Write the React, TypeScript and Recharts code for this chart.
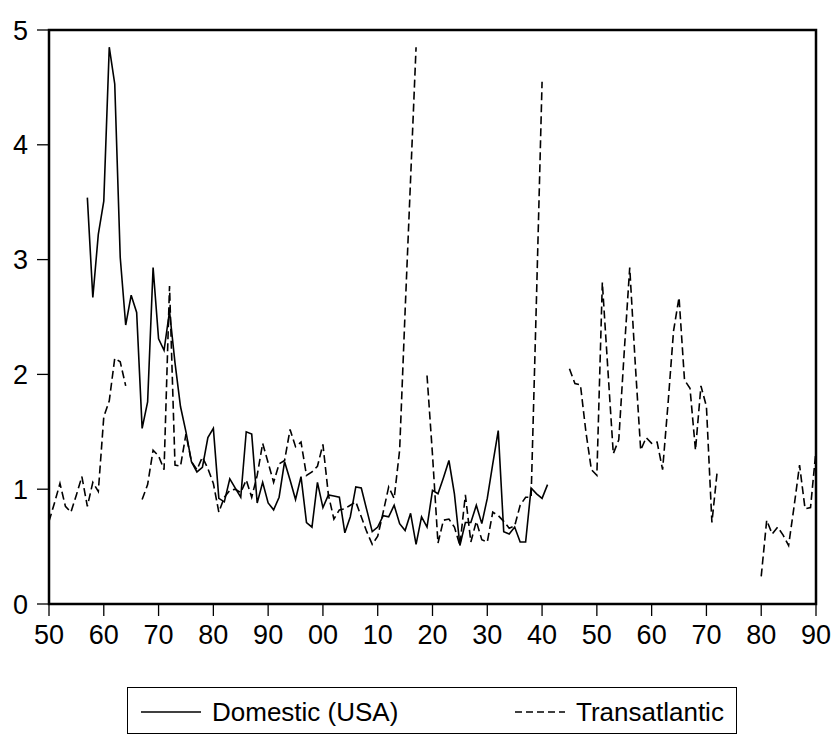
import { LineChart, Line, XAxis, YAxis, ReferenceArea } from "recharts";

// yearly values, Domestic (USA) starts 1857, Transatlantic starts 1850 (null = no data)
const domesticStart = 1857;
const domestic = [
  3.54, 2.67, 3.22,
  3.51, 4.85, 4.53, 3.02, 2.43, 2.69, 2.54, 1.53, 1.76, 2.93,
  2.31, 2.21, 2.55, 2.10, 1.72, 1.50, 1.24, 1.15, 1.19, 1.45,
  1.53, 0.92, 0.89, 1.09, 1.01, 0.93, 1.50, 1.48, 0.88, 1.06,
  0.88, 0.82, 0.93, 1.24, 1.08, 0.91, 1.11, 0.71, 0.67, 1.06,
  0.84, 0.95, 0.94, 0.93, 0.62, 0.76, 1.02, 1.01, 0.82, 0.63,
  0.67, 0.77, 0.76, 0.86, 0.70, 0.64, 0.79, 0.52, 0.76, 0.67,
  0.99, 0.96, 1.10, 1.25, 0.96, 0.51, 0.71, 0.71, 0.86, 0.70,
  0.92, 1.22, 1.51, 0.63, 0.61, 0.67, 0.54, 0.54, 1.01, 0.96,
  0.92, 1.04,
];

const transStart = 1850;
const transatlantic = [
  0.72, 0.88, 1.05, 0.85, 0.80, 0.95, 1.11, 0.85, 1.06, 0.98,
  1.63, 1.77, 2.14, 2.11, 1.90, null, null, 0.91, 1.04, 1.34,
  1.29, 1.17, 2.77, 1.21, 1.20, 1.48, 1.24, 1.17, 1.28, 1.18,
  1.05, 0.80, 0.93, 0.99, 1.00, 0.97, 1.08, 0.93, 1.12, 1.40,
  1.23, 1.06, 1.22, 1.25, 1.52, 1.37, 1.41, 1.12, 1.15, 1.20,
  1.39, 0.95, 0.74, 0.82, 0.83, 0.86, 0.89, 0.76, 0.63, 0.52,
  0.59, 0.80, 1.02, 0.92, 1.34, 2.55, 3.70, 4.85, null, 1.99,
  1.30, 0.53, 0.73, 0.74, 0.67, 0.51, 0.95, 0.54, 0.72, 0.56,
  0.54, 0.80, 0.77, 0.72, 0.66, 0.68, 0.86, 0.93, 0.93, 2.70,
  4.55, null, null, null, null, 2.05, 1.92, 1.91, 1.50, 1.17,
  1.12, 2.80, 2.05, 1.31, 1.43, 2.20, 2.93, 2.10, 1.34, 1.45,
  1.40, 1.41, 1.17, 1.75, 2.38, 2.67, 1.95, 1.88, 1.34, 1.90,
  1.72, 0.71, 1.17, null, null, null, null, null, null, null,
  0.24, 0.73, 0.61, 0.67, 0.60, 0.51, 0.85, 1.21, 0.83, 0.84,
  1.34,
];

const xTicks = [1850, 1860, 1870, 1880, 1890, 1900, 1910, 1920, 1930, 1940, 1950, 1960, 1970, 1980, 1990];
const yTicks = [0, 1, 2, 3, 4, 5];

const data = transatlantic.map((t, i) => {
  const year = transStart + i;
  const d = domestic[year - domesticStart];
  return { year, domestic: d === undefined ? null : d, transatlantic: t };
});

const font = "'Liberation Sans', Arial, sans-serif";
const tickStyle = { fontSize: 27, fill: "#000", fontFamily: font };

export default function App() {
  return (
    <div style={{ position: "relative", width: 833, height: 735, background: "#fff", fontFamily: font }}>
      <style>{`body{margin:0}`}</style>
      <LineChart width={833} height={735} data={data} margin={{ top: 30, right: 17, bottom: 86, left: 0 }}>
        <XAxis
          dataKey="year" type="number" domain={[1850, 1990]} ticks={xTicks}
          tickFormatter={v => String(v % 100).padStart(2, "0")}
          tick={tickStyle} axisLine={false} tickLine={{ stroke: "#000", strokeWidth: 1.3 }}
          tickSize={12} tickMargin={9} height={45} interval={0} allowDataOverflow
        />
        <YAxis
          domain={[0, 5]} ticks={yTicks} tick={tickStyle} axisLine={false}
          tickLine={{ stroke: "#000", strokeWidth: 1.3 }} tickSize={12} tickMargin={9}
          width={49} interval={0} allowDataOverflow
        />
        <ReferenceArea x1={1850} x2={1990} y1={0} y2={5} fill="none" fillOpacity={0} stroke="#000" strokeWidth={2.5} />
        <Line type="linear" dataKey="domestic" stroke="#000" strokeWidth={1.6} dot={false} isAnimationActive={false} />
        <Line type="linear" dataKey="transatlantic" stroke="#000" strokeWidth={1.6} strokeDasharray="8 4" dot={false} isAnimationActive={false} />
      </LineChart>
      <div style={{ position: "absolute", left: 127, top: 687, width: 610, height: 47, boxSizing: "border-box", border: "1.5px solid #000", background: "#fff" }} />
      <svg style={{ position: "absolute", left: 0, top: 0 }} width={833} height={735}>
        <line x1={141} x2={201} y1={712} y2={712} stroke="#000" strokeWidth={1.6} />
        <line x1={515} x2={565} y1={712} y2={712} stroke="#000" strokeWidth={1.6} strokeDasharray="7 4" />
        <text x={212} y={721} fontSize={26} fontFamily={font} fill="#000">Domestic (USA)</text>
        <text x={576} y={721} fontSize={26} fontFamily={font} fill="#000">Transatlantic</text>
      </svg>
    </div>
  );
}
